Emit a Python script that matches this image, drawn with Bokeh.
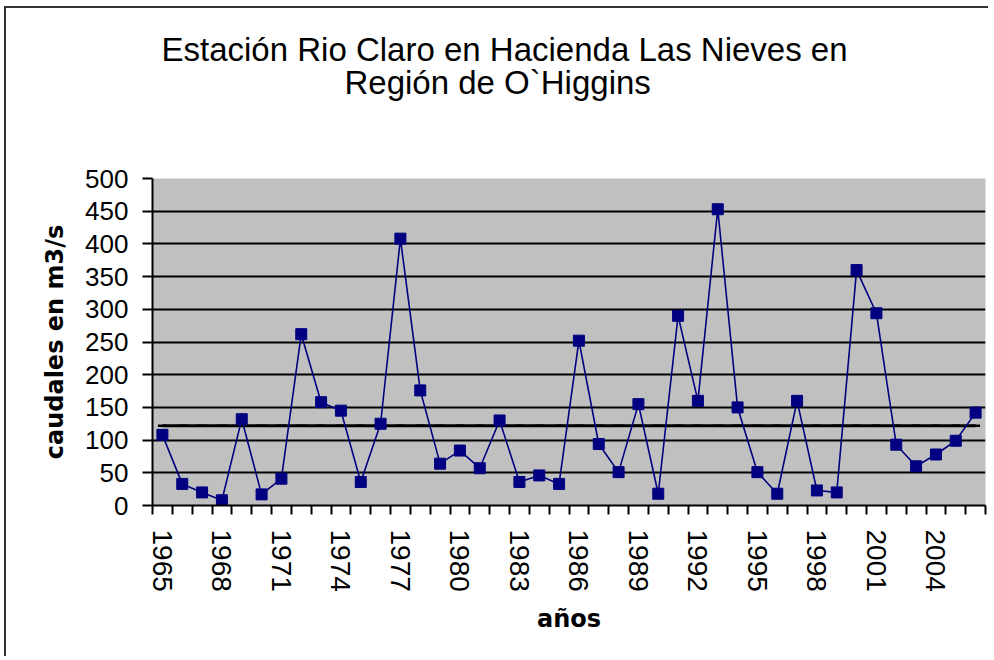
from bokeh.plotting import figure
from bokeh.models import FixedTicker, Title, Range1d
from bokeh.embed import file_html
from bokeh.resources import INLINE

# ---- data ----
years = [1965, 1966, 1967, 1968, 1969, 1970, 1971, 1972, 1973, 1974,
         1975, 1976, 1977, 1978, 1979, 1980, 1981, 1982, 1983, 1984,
         1985, 1986, 1987, 1988, 1989, 1990, 1991, 1992, 1993, 1994,
         1995, 1996, 1997, 1998, 1999, 2000, 2001, 2002, 2003, 2004,
         2005, 2006]
caudales = [108, 33, 20, 8, 132, 17, 41, 262, 158, 145,
            36, 125, 408, 176, 64, 84, 57, 130, 36, 46,
            33, 252, 94, 51, 155, 18, 290, 160, 453, 150,
            51, 18, 160, 23, 20, 360, 294, 93, 60, 78,
            99, 142]
promedio_valor = 122
promedio = [promedio_valor] * len(years)
y_ticks = [0, 50, 100, 150, 200, 250, 300, 350, 400, 450, 500]
x_label_years = [1965, 1968, 1971, 1974, 1977, 1980, 1983, 1986, 1989,
                 1992, 1995, 1998, 2001, 2004]
title_lines = ["Estación Rio Claro en Hacienda Las Nieves en",
               "Región de O`Higgins"]
y_title = "caudales en m3/s"
x_title = "años"

# ---- figure ----
p = figure(width=984, height=650, output_backend="svg", toolbar_location=None,
           x_range=Range1d(years[0] - 0.5, years[-1] + 0.5),
           y_range=Range1d(y_ticks[0], y_ticks[-1]),
           min_border_left=146, min_border_right=5,
           min_border_top=170, min_border_bottom=153)
p.background_fill_color = "#C0C0C0"
p.border_fill_color = "white"
p.outline_line_color = None
p.styles = {"margin-left": "4px", "margin-top": "6px",
            "border-top": "2px solid #333", "border-left": "2px solid #333"}

# grid
p.xgrid.visible = False
p.ygrid.grid_line_color = "black"
p.ygrid.grid_line_width = 2

# y axis
p.yaxis.ticker = FixedTicker(ticks=y_ticks)
p.yaxis.axis_line_color = "black"
p.yaxis.axis_line_width = 2
p.yaxis.major_tick_line_color = "black"
p.yaxis.major_tick_line_width = 2
p.yaxis.major_tick_out = 10
p.yaxis.major_tick_in = 0
p.yaxis.minor_tick_line_color = None
p.yaxis.major_label_standoff = 14
p.yaxis.major_label_text_font = "Liberation Sans"
p.yaxis.major_label_text_font_size = "26px"
p.yaxis.major_label_text_color = "black"
p.yaxis.axis_label = y_title
p.yaxis.axis_label_text_font = "DejaVu Sans"
p.yaxis.axis_label_text_font_style = "bold"
p.yaxis.axis_label_text_font_size = "24px"
p.yaxis.axis_label_text_color = "black"
p.yaxis.axis_label_standoff = 13

# x axis
boundaries = [y - 0.5 for y in years] + [years[-1] + 0.5]
p.xaxis.ticker = FixedTicker(ticks=x_label_years, minor_ticks=boundaries)
p.xaxis.axis_line_color = "black"
p.xaxis.axis_line_width = 2
p.xaxis.major_tick_out = 0
p.xaxis.major_tick_in = 0
p.xaxis.minor_tick_out = 9
p.xaxis.minor_tick_in = 0
p.xaxis.minor_tick_line_color = "black"
p.xaxis.minor_tick_line_width = 2
p.xaxis.major_label_orientation = "vertical"
p.xaxis.major_label_standoff = 15
p.xaxis.major_label_text_font = "Liberation Sans"
p.xaxis.major_label_text_font_size = "28px"
p.xaxis.major_label_text_color = "black"
p.xaxis.major_label_overrides = {yr: str(yr) for yr in x_label_years}
p.xaxis.axis_label = x_title
p.xaxis.axis_label_text_font = "DejaVu Sans"
p.xaxis.axis_label_text_font_style = "bold"
p.xaxis.axis_label_text_font_size = "24px"
p.xaxis.axis_label_text_color = "black"
p.xaxis.axis_label_standoff = 10

# mean line
p.line(years, promedio, line_color="black", line_width=3)
p.scatter(years, promedio, marker="dash", size=9, line_color="black", line_width=2.5)

# series
p.line(years, caudales, line_color="#000080", line_width=1.6)
p.scatter(years, caudales, marker="square", size=11,
          fill_color="#000080", line_color="#000080")

# title: two lines stacked above the frame (index 0 nearest the frame)
spacer = Title(text=" ", text_font_size="1px", standoff=75)
t2 = Title(text=title_lines[1], align="left", offset=192, standoff=0,
           text_font="Liberation Sans", text_font_size="33px",
           text_font_style="normal", text_color="black")
t1 = Title(text=title_lines[0], align="left", offset=9, standoff=-12,
           text_font="Liberation Sans", text_font_size="33px",
           text_font_style="normal", text_color="black")
p.add_layout(spacer, "above")
p.add_layout(t2, "above")
p.add_layout(t1, "above")

open("out.html", "w").write(file_html(p, INLINE))
